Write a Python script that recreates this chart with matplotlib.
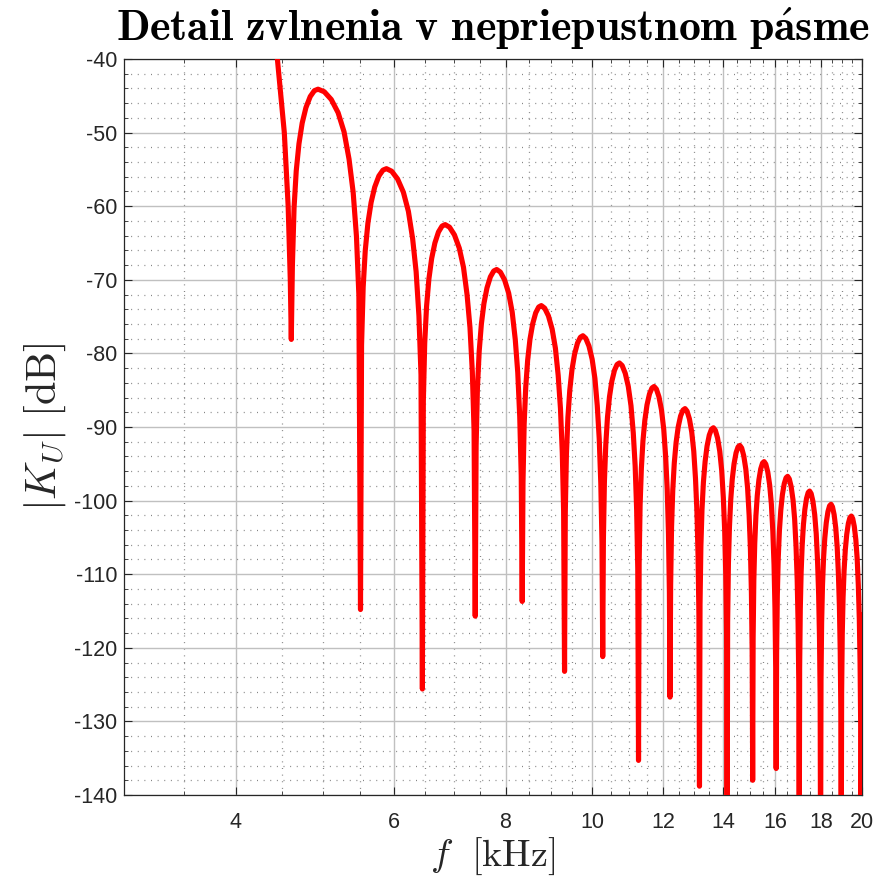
import numpy as np
import matplotlib
matplotlib.use('Agg')
import matplotlib.pyplot as plt
from matplotlib.ticker import FixedLocator, FixedFormatter, NullFormatter

# |K_U| [dB] vs f [kHz], read off the stopband detail (one line per lobe:
# rising flank, peak, falling flank, null)
f_khz = [
    4.35, 4.45, 4.53, 4.575, 4.60, 4.612,
    4.625, 4.645, 4.671, 4.704, 4.743, 4.789, 4.842, 4.894, 4.94,
    5.020, 5.111, 5.202, 5.282, 5.350, 5.407, 5.453, 5.487, 5.51,
    5.525, 5.548, 5.578, 5.616, 5.662, 5.715, 5.776, 5.837, 5.89,
    5.970, 6.061, 6.152, 6.232, 6.300, 6.357, 6.403, 6.437, 6.46,
    6.476, 6.499, 6.530, 6.569, 6.616, 6.671, 6.733, 6.795, 6.85,
    6.927, 7.015, 7.103, 7.180, 7.246, 7.301, 7.345, 7.378, 7.40,
    7.417, 7.442, 7.476, 7.518, 7.568, 7.627, 7.694, 7.761, 7.82,
    7.894, 7.979, 8.064, 8.138, 8.202, 8.255, 8.297, 8.329, 8.35,
    8.367, 8.392, 8.426, 8.468, 8.518, 8.577, 8.644, 8.711, 8.77,
    8.846, 8.932, 9.018, 9.094, 9.159, 9.213, 9.256, 9.288, 9.31,
    9.328, 9.355, 9.391, 9.436, 9.490, 9.553, 9.625, 9.697, 9.76,
    9.831, 9.913, 9.995, 10.066, 10.127, 10.178, 10.219, 10.250, 10.27,
    10.288, 10.315, 10.351, 10.396, 10.450, 10.513, 10.585, 10.657, 10.72,
    10.796, 10.882, 10.968, 11.044, 11.109, 11.163, 11.206, 11.238, 11.26,
    11.278, 11.306, 11.343, 11.389, 11.444, 11.508, 11.582, 11.656, 11.72,
    11.789, 11.867, 11.945, 12.014, 12.073, 12.122, 12.161, 12.190, 12.21,
    12.229, 12.258, 12.296, 12.344, 12.402, 12.469, 12.546, 12.623, 12.69,
    12.757, 12.834, 12.911, 12.978, 13.036, 13.084, 13.122, 13.151, 13.17,
    13.189, 13.218, 13.256, 13.304, 13.362, 13.429, 13.506, 13.583, 13.65,
    13.719, 13.797, 13.875, 13.944, 14.003, 14.052, 14.091, 14.120, 14.14,
    14.159, 14.187, 14.225, 14.272, 14.328, 14.394, 14.469, 14.544, 14.61,
    14.679, 14.757, 14.835, 14.904, 14.963, 15.012, 15.051, 15.080, 15.10,
    15.118, 15.145, 15.181, 15.226, 15.280, 15.343, 15.415, 15.487, 15.55,
    15.619, 15.697, 15.775, 15.844, 15.903, 15.952, 15.991, 16.020, 16.04,
    16.059, 16.088, 16.126, 16.174, 16.232, 16.299, 16.376, 16.453, 16.52,
    16.590, 16.670, 16.750, 16.820, 16.880, 16.930, 16.970, 17.000, 17.02,
    17.038, 17.066, 17.103, 17.149, 17.204, 17.268, 17.342, 17.416, 17.48,
    17.550, 17.630, 17.710, 17.780, 17.840, 17.890, 17.930, 17.960, 17.98,
    18.000, 18.029, 18.068, 18.117, 18.176, 18.245, 18.323, 18.401, 18.47,
    18.539, 18.617, 18.695, 18.764, 18.823, 18.872, 18.911, 18.940, 18.96,
    18.980, 19.010, 19.050, 19.100, 19.160, 19.230, 19.310, 19.390, 19.46,
    19.529, 19.607, 19.685, 19.754, 19.813, 19.862, 19.901, 19.930, 19.95,
    20.0,
]
k_db = [
    -30.0, -40.0, -50.0, -60.0, -70.0, -78.1,
    -68.1, -60.2, -55.2, -51.5, -48.7, -46.6, -45.1, -44.3, -44.1,
    -44.45, -45.5, -47.3, -49.9, -53.6, -58.1, -64.1, -72.1, -114.8,
    -78.9, -71.0, -66.0, -62.3, -59.5, -57.4, -55.9, -55.1, -54.9,
    -55.25, -56.3, -58.1, -60.7, -64.4, -68.9, -74.9, -82.9, -125.6,
    -86.5, -78.6, -73.6, -69.9, -67.1, -65.0, -63.5, -62.7, -62.5,
    -62.85, -63.9, -65.7, -68.3, -72.0, -76.5, -82.5, -90.5, -115.7,
    -92.6, -84.7, -79.7, -76.0, -73.2, -71.1, -69.6, -68.8, -68.6,
    -68.95, -70.0, -71.8, -74.4, -78.1, -82.6, -88.6, -96.6, -113.7,
    -97.5, -89.6, -84.6, -80.9, -78.1, -76.0, -74.5, -73.7, -73.5,
    -73.85, -74.9, -76.7, -79.3, -83.0, -87.5, -93.5, -101.5, -123.2,
    -101.6, -93.7, -88.7, -85.0, -82.2, -80.1, -78.6, -77.8, -77.6,
    -77.95, -79.0, -80.8, -83.4, -87.1, -91.6, -97.6, -105.6, -121.2,
    -105.3, -97.4, -92.4, -88.7, -85.9, -83.8, -82.3, -81.5, -81.3,
    -81.65, -82.7, -84.5, -87.1, -90.8, -95.3, -101.3, -109.3, -135.3,
    -108.5, -100.6, -95.6, -91.9, -89.1, -87.0, -85.5, -84.7, -84.5,
    -84.85, -85.9, -87.7, -90.3, -94.0, -98.5, -104.5, -112.5, -126.7,
    -111.5, -103.6, -98.6, -94.9, -92.1, -90.0, -88.5, -87.7, -87.5,
    -87.85, -88.9, -90.7, -93.3, -97.0, -101.5, -107.5, -115.5, -138.8,
    -114.1, -106.2, -101.2, -97.5, -94.7, -92.6, -91.1, -90.3, -90.1,
    -90.45, -91.5, -93.3, -95.9, -99.6, -104.1, -110.1, -118.1, -150.0,
    -116.5, -108.6, -103.6, -99.9, -97.1, -95.0, -93.5, -92.7, -92.5,
    -92.85, -93.9, -95.7, -98.3, -102.0, -106.5, -112.5, -120.5, -138.0,
    -118.7, -110.8, -105.8, -102.1, -99.3, -97.2, -95.7, -94.9, -94.7,
    -95.05, -96.1, -97.9, -100.5, -104.2, -108.7, -114.7, -122.7, -136.4,
    -120.7, -112.8, -107.8, -104.1, -101.3, -99.2, -97.7, -96.9, -96.7,
    -97.05, -98.1, -99.9, -102.5, -106.2, -110.7, -116.7, -124.7, -150.0,
    -122.7, -114.8, -109.8, -106.1, -103.3, -101.2, -99.7, -98.9, -98.7,
    -99.05, -100.1, -101.9, -104.5, -108.2, -112.7, -118.7, -126.7, -150.0,
    -124.5, -116.6, -111.6, -107.9, -105.1, -103.0, -101.5, -100.7, -100.5,
    -100.85, -101.9, -103.7, -106.3, -110.0, -114.5, -120.5, -128.5, -150.0,
    -126.1, -118.2, -113.2, -109.5, -106.7, -104.6, -103.1, -102.3, -102.1,
    -102.45, -103.5, -105.3, -107.9, -111.6, -116.1, -122.1, -130.1, -150.0,
    -115.5,
]

x_ticks = [4, 6, 8, 10, 12, 14, 16, 18, 20]
x_ticklabels = ['4', '6', '8', '10', '12', '14', '16', '18', '20']
y_ticks = [-140, -130, -120, -110, -100, -90, -80, -70, -60, -50, -40]

plt.rcParams['mathtext.fontset'] = 'cm'
plt.rcParams['axes.unicode_minus'] = False
plt.rcParams['font.family'] = ['Liberation Sans', 'DejaVu Sans']

W, H = 877, 881
fig = plt.figure(figsize=(W / 100, H / 100), dpi=100)
ax = fig.add_axes([124 / W, 1 - 795 / H, (862 - 124) / W, (795 - 59) / H])

ax.plot(f_khz, k_db, color='#ff0000', lw=3.7,
        solid_joinstyle='round', solid_capstyle='round', zorder=3)

ax.set_xscale('log')
ax.set_xlim(3, 20)
ax.set_ylim(-140, -40)

ax.xaxis.set_major_locator(FixedLocator(x_ticks))
ax.xaxis.set_major_formatter(FixedFormatter(x_ticklabels))
minor_x = [v for v in np.arange(3.5, 20, 0.5) if v not in x_ticks]
ax.xaxis.set_minor_locator(FixedLocator(minor_x))
ax.xaxis.set_minor_formatter(NullFormatter())
ax.yaxis.set_major_locator(FixedLocator(y_ticks))
ax.yaxis.set_minor_locator(FixedLocator(np.arange(-140, -40, 2)))

dark = '#262626'
ax.grid(True, which='major', color='#c0c0c0', lw=1.0, ls='-')
ax.grid(True, which='minor', color='#858585', lw=0.9, ls=(0, (0.8, 4.5)))
ax.set_axisbelow(True)

ax.tick_params(which='both', direction='in', top=True, right=True,
               color=dark, labelcolor=dark, labelsize=15.5)
ax.tick_params(which='major', length=6, width=0.8)
ax.tick_params(which='minor', length=3, width=0.6)
ax.tick_params(axis='x', pad=12)
ax.tick_params(axis='y', pad=5)
for sp in ax.spines.values():
    sp.set_color(dark)
    sp.set_linewidth(0.9)

ax.set_title(r'$\mathbf{Detail\ zvlnenia\ v\ nepriepustnom\ p\acute{a}sme}$',
             fontsize=31.5, color='black', pad=13)
ax.set_xlabel(r'$f\ \ [\mathrm{kHz}]$', fontsize=27.5, color=dark, labelpad=2)
ax.set_ylabel(r'$|K_U|\ [\mathrm{dB}]$', fontsize=30.5, color=dark, labelpad=4)

fig.savefig('out.png', dpi=100)
